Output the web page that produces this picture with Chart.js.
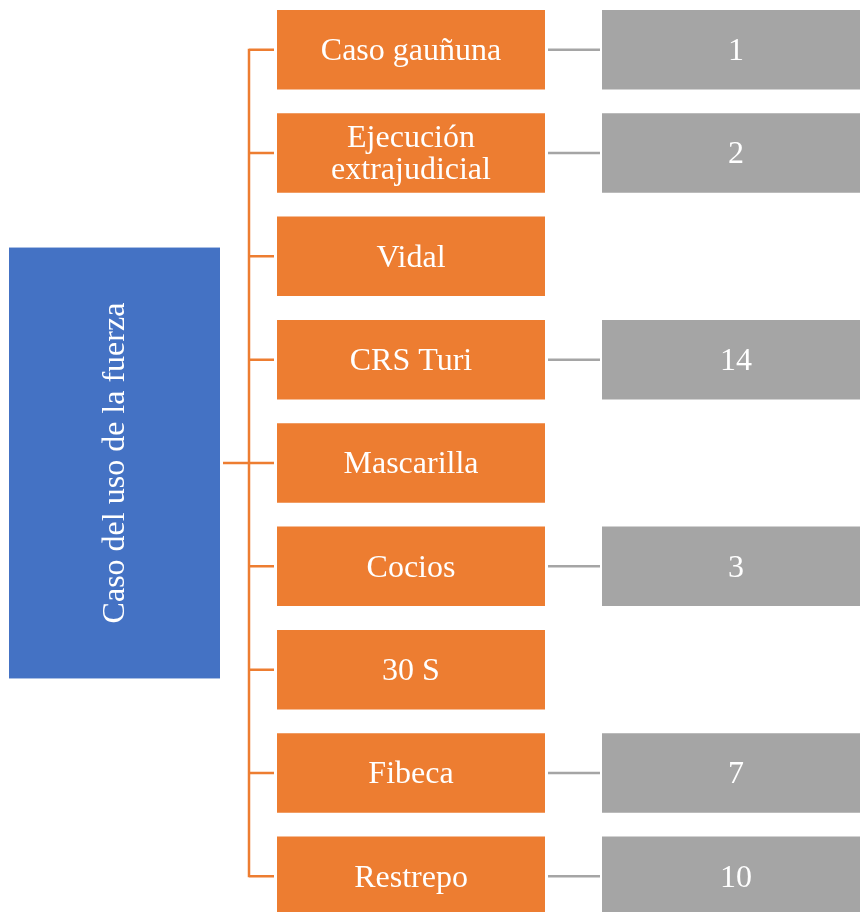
<!DOCTYPE html>
<html>
<head>
<meta charset="utf-8">
<script src="https://cdn.jsdelivr.net/npm/chart.js@4.4.0/dist/chart.umd.min.js"></script>
<style>
  body { margin: 0; background: #fff; overflow: hidden; }
  #wrap { position: absolute; left: 0; top: -2px; width: 860px; height: 930px; }
</style>
</head>
<body>
<div id="wrap"><canvas id="tree"></canvas></div>
<script>
// data
var rootLabel = 'Caso del uso de la fuerza';
var categories = ['Caso gauñuna', ['Ejecución', 'extrajudicial'], 'Vidal', 'CRS Turi',
                  'Mascarilla', 'Cocios', '30 S', 'Fibeca', 'Restrepo'];
var counts = [1, 2, null, 14, null, 3, null, 7, 10];

// layout (pixels on the x scale)
var ROOT_X = [9, 220];
var TRUNK_X = 249;
var CAT_X = [277, 545];
var NUM_X = [602, 870];
var ROOT_BANDS = 4.17;

var ORANGE = '#ED7D31';
var BLUE = '#4472C4';
var GRAY = '#A5A5A5';
var FONT = '32px "Liberation Serif", "Times New Roman", serif';

function start(){
    var catBars = categories.map(function(){ return CAT_X; });
    var numBars = counts.map(function(c){ return c == null ? null : NUM_X; });

    var treePlugin = {
        id: 'tree',
        beforeDatasetsDraw: function(chart){
            var ctx = chart.ctx;
            var y = chart.scales.y;
            var band = y.getPixelForValue(1) - y.getPixelForValue(0);
            var rootY = y.getPixelForValue(4);
            var first = y.getPixelForValue(0);
            var last = y.getPixelForValue(categories.length - 1);
            var catMeta = chart.getDatasetMeta(0).data;
            var numMeta = chart.getDatasetMeta(1).data;

            ctx.save();
            // root box
            var h = band * ROOT_BANDS;
            ctx.fillStyle = BLUE;
            ctx.fillRect(ROOT_X[0], rootY - h / 2, ROOT_X[1] - ROOT_X[0], h);

            // orange connectors
            ctx.strokeStyle = ORANGE;
            ctx.lineWidth = 2.5;
            ctx.beginPath();
            ctx.moveTo(ROOT_X[1] + 3, rootY);
            ctx.lineTo(TRUNK_X, rootY);
            ctx.moveTo(TRUNK_X, first - 1);
            ctx.lineTo(TRUNK_X, last + 1);
            for (var i = 0; i < catMeta.length; i++){
                ctx.moveTo(TRUNK_X, catMeta[i].y);
                ctx.lineTo(catMeta[i].base - 3, catMeta[i].y);
            }
            ctx.stroke();

            // gray connectors
            ctx.strokeStyle = GRAY;
            ctx.beginPath();
            for (var j = 0; j < counts.length; j++){
                if (counts[j] == null) continue;
                ctx.moveTo(catMeta[j].x + 3, numMeta[j].y);
                ctx.lineTo(numMeta[j].base - 2, numMeta[j].y);
            }
            ctx.stroke();

            // root text, rotated
            ctx.fillStyle = '#fff';
            ctx.font = FONT;
            ctx.textAlign = 'center';
            ctx.textBaseline = 'middle';
            ctx.translate((ROOT_X[0] + ROOT_X[1]) / 2 + 1, rootY);
            ctx.rotate(-Math.PI / 2);
            ctx.fillText(rootLabel, 0, 0);
            ctx.restore();
        },
        afterDatasetsDraw: function(chart){
            var ctx = chart.ctx;
            ctx.save();
            ctx.fillStyle = '#fff';
            ctx.font = FONT;
            ctx.textAlign = 'center';
            ctx.textBaseline = 'middle';
            chart.getDatasetMeta(0).data.forEach(function(bar, i){
                var lines = [].concat(categories[i]);
                var cx = (bar.x + bar.base) / 2;
                for (var k = 0; k < lines.length; k++){
                    ctx.fillText(lines[k], cx, bar.y + 2 + (k - (lines.length - 1) / 2) * 32);
                }
            });
            chart.getDatasetMeta(1).data.forEach(function(bar, i){
                if (counts[i] == null) return;
                ctx.fillText(String(counts[i]), (bar.x + bar.base) / 2, bar.y + 2);
            });
            ctx.restore();
        }
    };

    new Chart(document.getElementById('tree'), {
        type: 'bar',
        data: {
            labels: categories,
            datasets: [{
                data: catBars,
                backgroundColor: ORANGE,
                grouped: false,
                barPercentage: 0.77,
                categoryPercentage: 1
            }, {
                data: numBars,
                backgroundColor: GRAY,
                grouped: false,
                barPercentage: 0.77,
                categoryPercentage: 1
            }]
        },
        options: {
            indexAxis: 'y',
            responsive: true,
            maintainAspectRatio: false,
            animation: false,
            layout: { padding: 0 },
            plugins: { legend: { display: false }, tooltip: { enabled: false } },
            scales: {
                x: { type: 'linear', min: 0, max: 860, display: false },
                y: { type: 'category', display: false, offset: true }
            }
        },
        plugins: [treePlugin]
    });
}

start();
</script>
</body>
</html>
